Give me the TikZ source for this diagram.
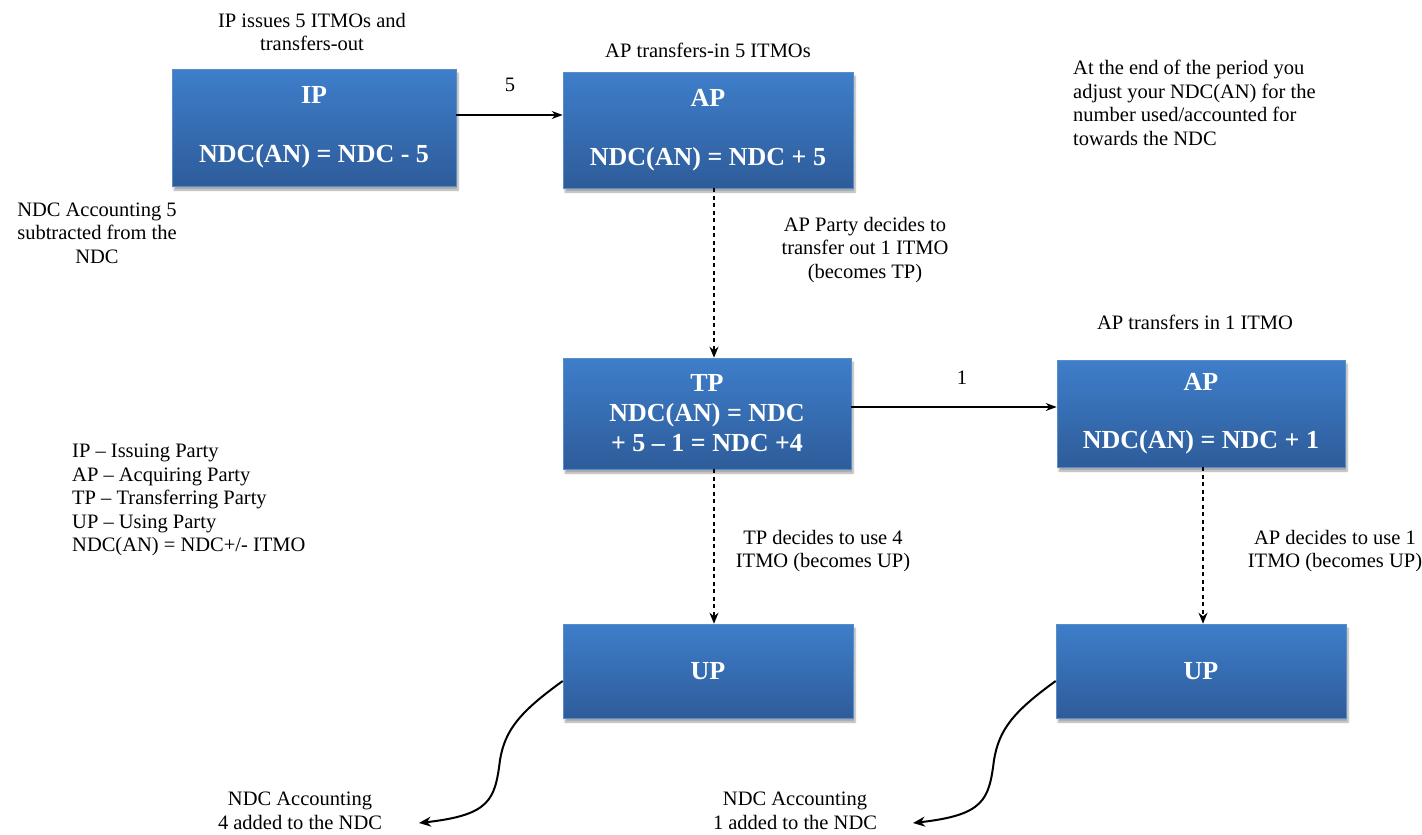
\documentclass[tikz,border=0pt]{standalone}
\usepackage{fontspec}
\setmainfont{Liberation Serif}
\usetikzlibrary{arrows.meta,shadows.blur}
\definecolor{boxtop}{RGB}{62,126,202}
\definecolor{boxbot}{RGB}{46,92,154}
\definecolor{boxedge}{RGB}{90,140,200}
\tikzset{
  box/.style={rectangle, draw=boxedge, line width=0.6pt, top color=boxtop, bottom color=boxbot,
    text=white, font=\fontsize{26}{30}\selectfont\bfseries, align=center, inner sep=0pt,
    blur shadow={shadow xshift=2pt, shadow yshift=-4pt, shadow blur steps=6, shadow opacity=35}},
  lbl/.style={font=\fontsize{20.5}{23.5}\selectfont, align=center, inner sep=0pt},
  solidarrow/.style={line width=1.3pt, -{Stealth[length=11pt,width=8pt]}},
  dasharrow/.style={line width=1.3pt, dash pattern=on 4pt off 3.5pt, -{Stealth[length=11pt,width=9pt]}},
  curvearrow/.style={line width=2pt, -{Stealth[length=12pt,width=10pt]}}
}
\begin{document}
\begin{tikzpicture}[x=1pt,y=-1pt]
\useasboundingbox (0,0) rectangle (1422,835);
% boxes
\node[box, minimum width=284pt, minimum height=117pt] (ip) at (314,127.5) {IP\\[29pt]NDC(AN) = NDC - 5};
\node[box, minimum width=290pt, minimum height=116pt] (ap1) at (708,130) {AP\\[29pt]NDC(AN) = NDC + 5};
\node[box, minimum width=288pt, minimum height=111pt] (tp) at (707,413.5) {TP\\NDC(AN) = NDC\\+ 5 -- 1 = NDC +4};
\node[box, minimum width=288pt, minimum height=107pt] (ap2) at (1201,413.5) {AP\\[28pt]NDC(AN) = NDC + 1};
\node[box, minimum width=290pt, minimum height=94pt] (up1) at (708,671) {UP};
\node[box, minimum width=290pt, minimum height=94pt] (up2) at (1201,671) {UP};
% texts
\node[lbl] (t1) at (312,32) {IP issues 5 ITMOs and\\transfers-out};
\node[lbl] (t2) at (708,50) {AP transfers-in 5 ITMOs};
\node[lbl] (n5) at (510,85) {5};
\node[lbl, align=left, anchor=north west] (t3) at (1073,60) {At the end of the period you\\adjust your NDC(AN) for the\\number used/accounted for\\towards the NDC};
\node[lbl] (t4) at (97,233) {NDC Accounting 5\\subtracted from the\\NDC};
\node[lbl] (t5) at (865,250) {AP Party decides to\\transfer out 1 ITMO\\(becomes TP)};
\node[lbl] (t6) at (1195,322) {AP transfers in 1 ITMO};
\node[lbl] (n1) at (962,378) {1};
\node[lbl, align=left, anchor=north west] (leg) at (72,444) {IP -- Issuing Party\\AP -- Acquiring Party\\TP -- Transferring Party\\UP -- Using Party\\NDC(AN) = NDC+/- ITMO};
\node[lbl] (t7) at (823,551) {TP decides to use 4\\ITMO (becomes UP)};
\node[lbl] (t8) at (1335,551) {AP decides to use 1\\ITMO (becomes UP)};
\node[lbl] (t9) at (300,811) {NDC Accounting\\4 added to the NDC};
\node[lbl] (t10) at (795,811) {NDC Accounting\\1 added to the NDC};
% connectors
\draw[solidarrow] ([yshift=12.5pt]ip.east) -- ([yshift=12.5pt]ip.east -| ap1.west);
\draw[solidarrow] ([yshift=6.5pt]tp.east) -- ([yshift=6.5pt]tp.east -| ap2.west);
\draw[dasharrow] ([xshift=6pt]ap1.south) -- ([xshift=6pt]ap1.south |- tp.north);
\draw[dasharrow] ([xshift=7pt]tp.south) -- ([xshift=7pt]tp.south |- up1.north);
\draw[dasharrow] ([xshift=2pt]ap2.south) -- ([xshift=2pt]ap2.south |- up2.north);
\coordinate (e1) at (419,823);
\coordinate (e2) at (913,823);
\draw[curvearrow] ([yshift=-10pt]up1.west) .. controls +(-43,31) and (505,730) .. (500,760)
   .. controls (495,800) and (490,815) .. (e1);
\draw[curvearrow] ([yshift=-10pt]up2.west) .. controls +(-43,31) and (999,730) .. (994,760)
   .. controls (989,800) and (984,815) .. (e2);
\end{tikzpicture}
\end{document}
